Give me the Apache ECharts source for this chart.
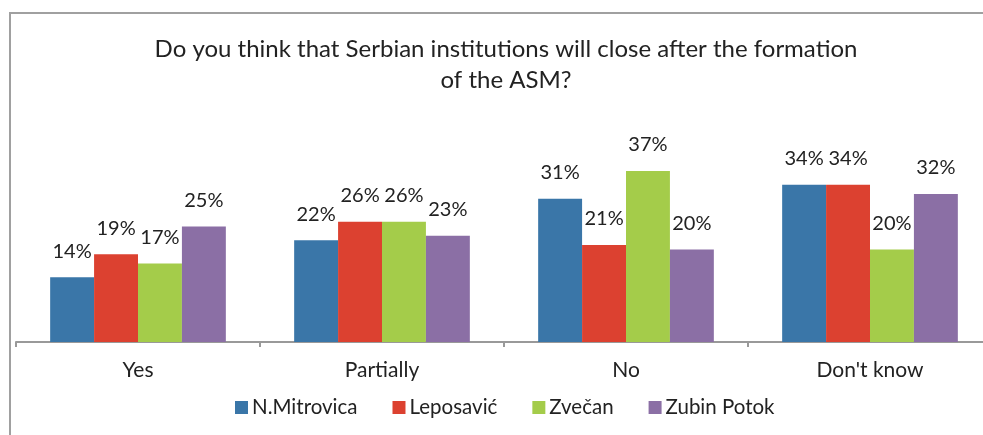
<!DOCTYPE html>
<html>
<head>
<meta charset="utf-8">
<script src="https://cdn.jsdelivr.net/npm/echarts@6/dist/echarts.min.js"></script>
<style>
  html, body { margin: 0; padding: 0; background: #fff; }
  #chart { width: 983px; height: 435px; }
</style>
</head>
<body>
<div id="chart"></div>
<script>
const categories = ["Yes", "Partially", "No", "Don't know"]
const seriesNames = ["N.Mitrovica", "Leposavić", "Zvečan", "Zubin Potok"]
const mitrovica = [14, 22, 31, 34]
const leposavic = [19, 26, 21, 34]
const zvecan = [17, 26, 37, 20]
const zubinPotok = [25, 23, 20, 32]
const colors = ["#3a76a8", "#dc4130", "#a4cc4a", "#8b6fa5"]

const values = [mitrovica, leposavic, zvecan, zubinPotok]
const font = "Lato, 'Noto Sans', sans-serif"

const chart = echarts.init(document.getElementById("chart"))
chart.setOption({
  animation: false,
  color: colors,
  textStyle: { fontFamily: font },
  title: {
    text: "Do you think that Serbian institutions will close after the formation\nof the ASM?",
    left: 501,
    textAlign: "center",
    top: 29,
    textStyle: {
      fontFamily: font,
      fontSize: 24,
      fontWeight: "normal",
      color: "#222",
      lineHeight: 31
    }
  },
  legend: {
    data: seriesNames,
    left: 235,
    top: 397,
    padding: 0,
    itemWidth: 13,
    itemHeight: 13,
    itemGap: 35,
    icon: "rect",
    textStyle: { fontFamily: font, fontSize: 20.5, color: "#222", padding: [0, 0, 0, -1] }
  },
  grid: {
    left: 16,
    width: 976,
    top: 157,
    bottom: 93,
    outerBoundsMode: "none"
  },
  xAxis: {
    type: "category",
    data: categories,
    axisLine: { lineStyle: { color: "#999", width: 2 } },
    axisTick: { show: true, length: 5, lineStyle: { color: "#999", width: 2 } },
    axisLabel: { fontFamily: font, fontSize: 21, color: "#222", margin: 18 }
  },
  yAxis: {
    type: "value",
    min: 0,
    max: 40,
    show: false,
    splitLine: { show: false }
  },
  graphic: [{
    type: "rect",
    shape: { x: 10, y: 13, width: 1000, height: 500 },
    style: { fill: "none", stroke: "#a0a0a0", lineWidth: 2 },
    silent: true
  }],
  series: seriesNames.map((name, i) => ({
    name,
    type: "bar",
    data: values[i],
    barGap: "0%",
    barCategoryGap: "28%",
    label: {
      show: true,
      position: "top",
      distance: 16,
      formatter: "{c}%",
      fontFamily: font,
      fontSize: 20,
      color: "#222"
    }
  }))
})
</script>
</body>
</html>
